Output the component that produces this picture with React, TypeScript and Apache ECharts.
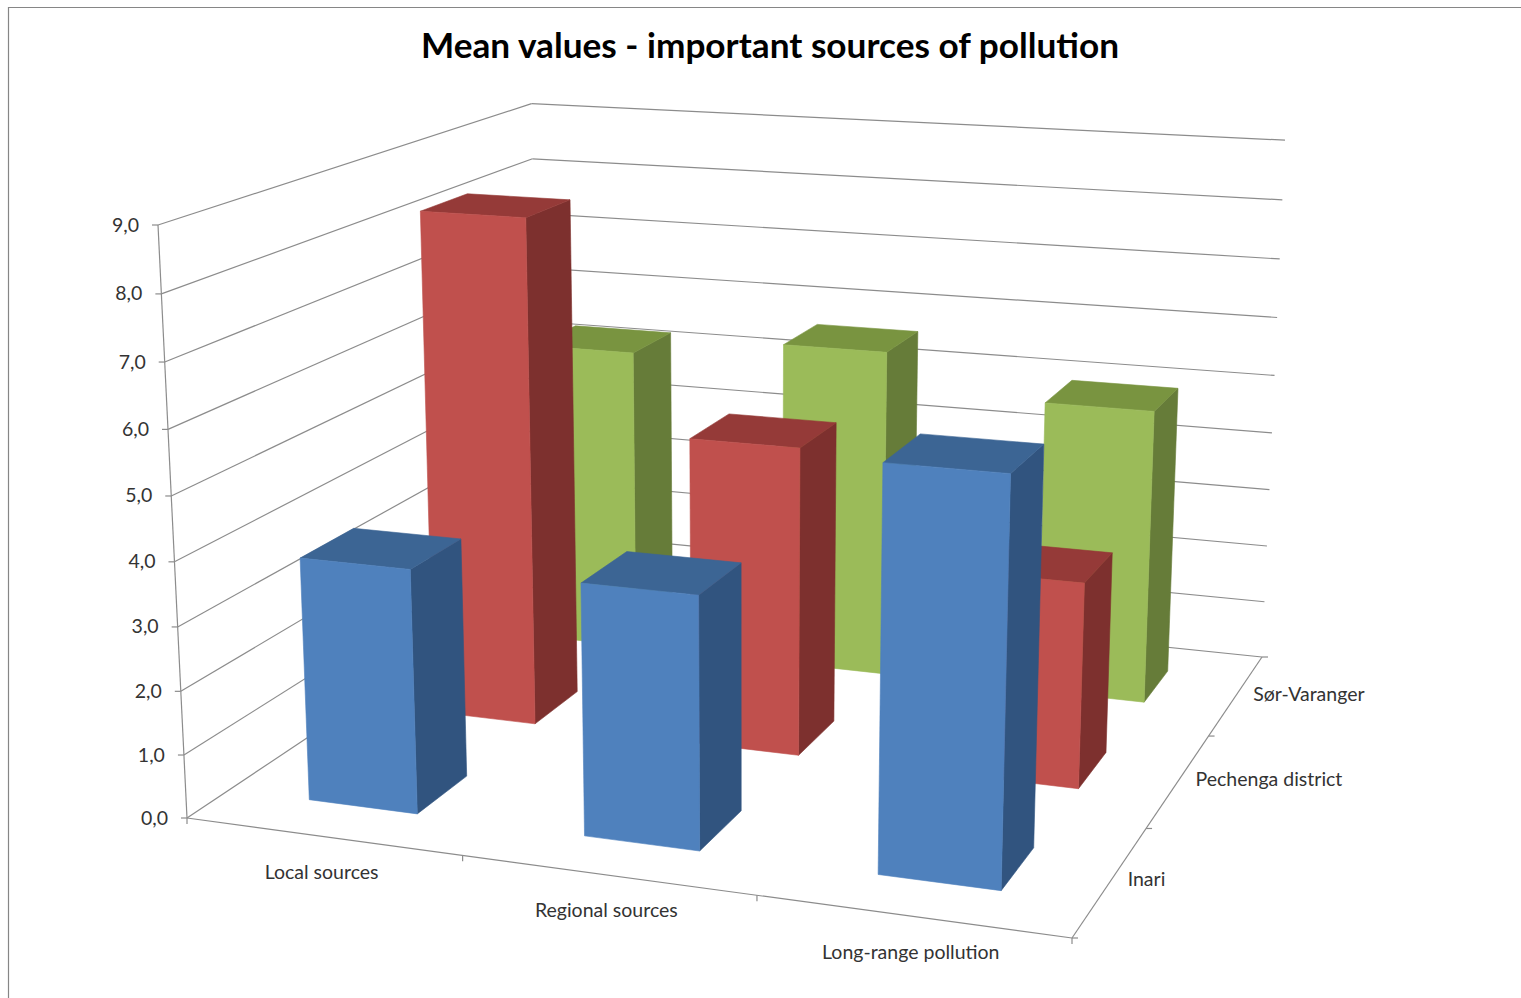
import React, { useEffect, useRef } from "react";
import * as echarts from "echarts";

const WIDTH = 1521;
const HEIGHT = 998;

const titleText = "Mean values - important sources of pollution";
const categories = ["Local sources", "Regional sources", "Long-range pollution"];
const depthNames = ["Inari", "Pechenga district", "Sør-Varanger"];
const valueTicks = [0, 1, 2, 3, 4, 5, 6, 7, 8, 9];
const tickLabels = ["0,0", "1,0", "2,0", "3,0", "4,0", "5,0", "6,0", "7,0", "8,0", "9,0"];

const inariValues = [3.83, 3.89, 6.07];
const pechengaValues = [8.34, 5.01, 3.29];
const sorVarangerValues = [5.27, 5.61, 4.96];

const inariColors = ["#4F81BD", "#3C6594", "#31547F"];
const pechengaColors = ["#C0504D", "#953A38", "#7D302E"];
const sorVarangerColors = ["#9BBB59", "#799440", "#667C39"];

const GRID = "#8C8C8C";
const TEXT = "#333333";
const FONT = "Lato";

// Screen positions of the plot box corners: floor front-left, front-right, back-right,
// back-left; then the top front-left and top back-right.
const A = [187, 818];
const B = [1072, 938];
const C = [1262, 657];
const D = [540, 582.5];
const E = [158, 225];
const G = [1285, 142];

function buildProjection() {
  const dx1 = B[0] - C[0];
  const dx2 = D[0] - C[0];
  const sx = A[0] - B[0] + C[0] - D[0];
  const dy1 = B[1] - C[1];
  const dy2 = D[1] - C[1];
  const sy = A[1] - B[1] + C[1] - D[1];
  const den = dx1 * dy2 - dx2 * dy1;
  const g = (sx * dy2 - dx2 * sy) / den;
  const h = (dx1 * sy - sx * dy1) / den;
  const a = B[0] - A[0] + g * B[0];
  const b = D[0] - A[0] + h * D[0];
  const d = B[1] - A[1] + g * B[1];
  const e = D[1] - A[1] + h * D[1];
  const k = (a + b + E[0] - G[0] * (1 + g + h)) / (G[0] - E[0]);
  const cx = E[0] * (1 + k) - A[0];
  const cy = E[1] * (1 + k) - A[1];
  return (u: number, v: number, w: number): number[] => {
    const q = g * u + h * v + k * w + 1;
    return [(a * u + b * v + cx * w + A[0]) / q, (d * u + e * v + cy * w + A[1]) / q];
  };
}
const project = buildProjection();

const BAR_SHARE = 0.4; // gap width 150 %, the same along both floor directions

function fractions(api: any, x: number, y: number) {
  const p = api.coord([x, y]);
  return [p[0] / WIDTH, 1 - p[1] / HEIGHT];
}

function poly(points: number[][], fill: string) {
  return {
    type: "polygon",
    shape: { points },
    style: { fill, stroke: fill, lineWidth: 0.6 },
  };
}

function line(p: number[], q: number[]) {
  return {
    type: "line",
    shape: { x1: p[0], y1: p[1], x2: q[0], y2: q[1] },
    style: { stroke: GRID, lineWidth: 1.2, fill: "none" },
  };
}

function label(text: string, x: number, y: number, align: string) {
  return {
    type: "text",
    style: { text, x, y, align, verticalAlign: "middle", fill: TEXT, font: `19.5px ${FONT}` },
  };
}

function barRenderer(row: number, colors: string[]) {
  return (_params: any, api: any) => {
    const cat = api.value(0);
    const val = api.value(1);
    const half = BAR_SHARE / 2;
    const [u0, w1] = fractions(api, cat + 0.5 - half, val);
    const [u1] = fractions(api, cat + 0.5 + half, val);
    const v0 = (row + 0.5 - half) / 3;
    const v1 = (row + 0.5 + half) / 3;
    const [front, top, side] = colors;
    return {
      type: "group",
      children: [
        poly([project(u1, v0, 0), project(u1, v1, 0), project(u1, v1, w1), project(u1, v0, w1)], side),
        poly([project(u0, v0, w1), project(u1, v0, w1), project(u1, v1, w1), project(u0, v1, w1)], top),
        poly([project(u0, v0, 0), project(u1, v0, 0), project(u1, v0, w1), project(u0, v0, w1)], front),
      ],
    };
  };
}

function valueAxisRenderer(params: any, api: any) {
  const tick = api.value(1);
  const [, w] = fractions(api, 0, tick);
  const front = project(0, 0, w);
  const back = project(0, 1, w);
  const right = project(1, 1, w);
  const top = project(0, 0, 1);
  const children: any[] = [
    line(front, back),
    line(back, right),
    line([front[0] - 6, front[1]], front),
    label(tickLabels[params.dataIndex], front[0] - 19, front[1] - 1, "right"),
  ];
  if (params.dataIndex === 0) {
    children.push(line(front, top));
    children.push(line(front, project(1, 0, 0)));
    children.push(line(project(1, 0, 0), project(1, 1, 0)));
  }
  return { type: "group", children };
}

function categoryAxisRenderer(params: any, api: any) {
  const idx = params.dataIndex;
  const children: any[] = [];
  const [u0] = fractions(api, idx, 0);
  const start = project(u0, 0, 0);
  children.push(line(start, [start[0], start[1] + 6]));
  if (idx < categories.length) {
    const [uc] = fractions(api, idx + 0.5, 0);
    const mid = project(uc, 0, 0);
    children.push(label(categories[idx], mid[0] - 1, mid[1] + 35, "center"));
  }
  return { type: "group", children };
}

function depthAxisRenderer(params: any, api: any) {
  const idx = params.dataIndex;
  const [u1] = fractions(api, 3, 0);
  const start = project(u1, idx / 3, 0);
  const children: any[] = [line(start, [start[0] + 6, start[1]])];
  if (idx < depthNames.length) {
    const mid = project(u1, (idx + 0.5) / 3, 0);
    children.push(label(depthNames[idx], mid[0] + 17, mid[1] - 2, "left"));
  }
  return { type: "group", children };
}

function customSeries(name: string, data: number[][], renderItem: any, z: number) {
  return {
    type: "custom",
    name,
    coordinateSystem: "cartesian2d",
    data,
    renderItem,
    clip: false,
    silent: true,
    z,
    encode: { x: 0, y: 1 },
  };
}

export default function App() {
  const ref = useRef<HTMLDivElement>(null);
  useEffect(() => {
    const chart = echarts.init(ref.current!, undefined, { renderer: "svg" });
    const rows = (values: number[]) => values.map((v, i) => [i, v]);
    chart.setOption({
      animation: false,
      backgroundColor: "#FFFFFF",
      title: {
        text: titleText,
        left: 765,
        top: 21,
        textAlign: "center",
        textStyle: { fontFamily: FONT, fontSize: 35.2, fontWeight: "bold", color: "#000000" },
      },
      grid: { left: 0, top: 0, width: WIDTH, height: HEIGHT, containLabel: false },
      xAxis: { type: "value", min: 0, max: 3, show: false },
      yAxis: { type: "value", min: 0, max: 9, interval: 1, show: false },
      graphic: [
        {
          type: "polyline",
          shape: { points: [[8.5, HEIGHT], [8.5, 7.5], [WIDTH, 7.5]] },
          style: { stroke: "#868686", lineWidth: 1.2, fill: "none" },
        },
      ],
      series: [
        customSeries("Value axis", valueTicks.map((t, i) => [i, t]), valueAxisRenderer, 1),
        customSeries("Category axis", [0, 1, 2, 3].map((i) => [i, 0]), categoryAxisRenderer, 1),
        customSeries("Depth axis", [0, 1, 2, 3].map((i) => [i, 0]), depthAxisRenderer, 1),
        customSeries(depthNames[2], rows(sorVarangerValues), barRenderer(2, sorVarangerColors), 2),
        customSeries(depthNames[1], rows(pechengaValues), barRenderer(1, pechengaColors), 3),
        customSeries(depthNames[0], rows(inariValues), barRenderer(0, inariColors), 4),
      ],
    });
    return () => chart.dispose();
  }, []);
  return (
    <div
      ref={ref}
      style={{ position: "fixed", left: 0, top: 0, width: WIDTH, height: HEIGHT, background: "#fff" }}
    />
  );
}
